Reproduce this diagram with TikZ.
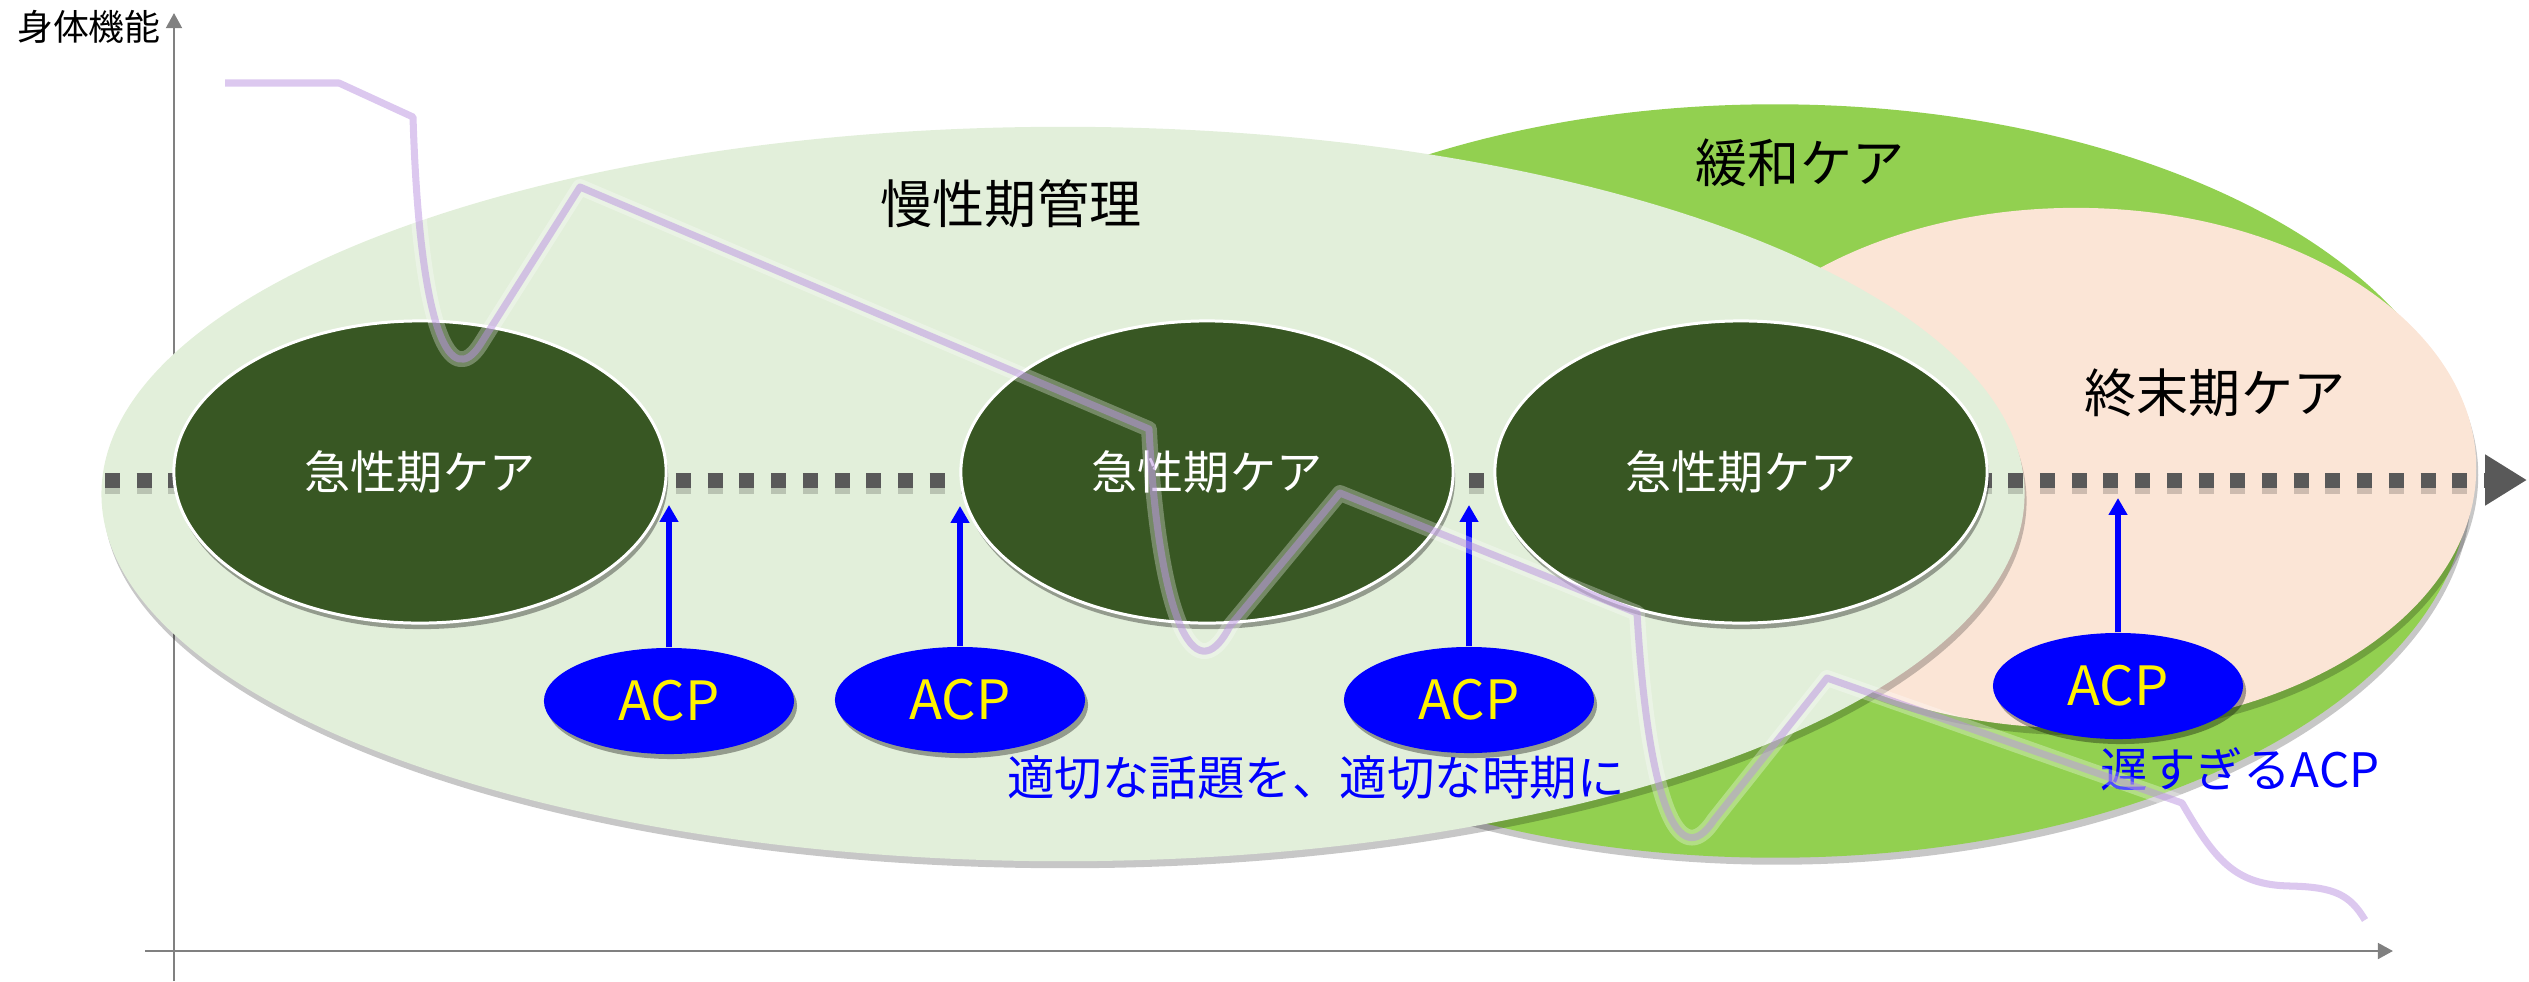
\documentclass[tikz,border=0pt]{standalone}
\usepackage{fontspec}
\setmainfont{Noto Sans CJK JP}
\usetikzlibrary{shapes.geometric, arrows.meta, shadows, calc}

\definecolor{lgreen}{HTML}{E2EFDA}
\definecolor{pgreen}{HTML}{92D050}
\definecolor{peach}{HTML}{FBE5D6}
\definecolor{dgreen}{RGB}{56,87,35}
\definecolor{dotgray}{HTML}{595959}
\definecolor{axisgray}{HTML}{808080}
\definecolor{curvecol}{RGB}{185,145,225}

\begin{document}
\begin{tikzpicture}[x=0.01cm, y=-0.01cm,
  bigell/.style={ellipse, inner sep=0pt, draw=none,
    drop shadow={shadow xshift=0.02cm, shadow yshift=-0.07cm, opacity=0.22, fill=black}},
  bigtext/.style={inner sep=0pt, text=black, font=\fontsize{14.8pt}{17pt}\selectfont},
  acute/.style={ellipse, fill=dgreen, draw=white, line width=0.85pt,
    minimum width=4.92cm, minimum height=3.02cm, inner sep=0pt, text=white,
    font=\fontsize{13.1pt}{15pt}\selectfont,
    drop shadow={shadow xshift=0.02cm, shadow yshift=-0.06cm, opacity=0.35, fill=black}},
  acp/.style={ellipse, fill=blue, draw=none, text=yellow,
    minimum width=2.5cm, minimum height=1.06cm, inner sep=0pt,
    font=\fontsize{15.4pt}{17pt}\selectfont,
    drop shadow={shadow xshift=0.03cm, shadow yshift=-0.05cm, opacity=0.35, fill=black}},
  acparrow/.style={blue, line width=1.6pt,
    -{Triangle[length=4.8pt, width=5.1pt]}},
  bluetext/.style={inner sep=0pt, text=blue, font=\fontsize{13.5pt}{16pt}\selectfont},
  axisline/.style={axisgray, line width=0.7pt,
    -{Triangle[length=4.3pt, width=4.5pt]}},
  dotline/.style={dotgray, line width=4.27pt, dash pattern=on 4.27pt off 4.75pt},
  curveline/.style={draw=curvecol, draw opacity=0.5, line width=2pt, line join=round,
    preaction={draw=white, draw opacity=0.3, line width=4.5pt, line join=round}}
]
\useasboundingbox (0,0) rectangle (2529,981);

% axes
\coordinate (ybot) at (174,981);
\coordinate (ytop) at (174,13);
\coordinate (xleft) at (145,951);
\coordinate (xright) at (2393,951);
\draw[axisline] (ybot) -- (ytop);
\draw[axisline] (xleft) -- (xright);
\node[inner sep=0pt, text=black, font=\fontsize{10.2pt}{12pt}\selectfont] (ylabel) at (89,27) {身体機能};

% large regions
\node[bigell, fill=pgreen, minimum width=13.88cm, minimum height=7.53cm] (palliative) at (1775,481) {};
\node[bigell, fill=peach, minimum width=8.0cm, minimum height=5.2cm] (terminal) at (2076,468) {};
\node[bigell, fill=lgreen, minimum width=19.22cm, minimum height=7.34cm] (chronic) at (1063,494) {};

\node[bigtext] (chronictext) at (1011,204) {慢性期管理};
\node[bigtext] (palltext) at (1800,163) {緩和ケア};
\node[bigtext] (termtext) at (2215,393) {終末期ケア};

% dotted time line
\coordinate (dotstart) at (105,480);
\coordinate (dotend) at (2527,480);
\coordinate (dotshadowend) at (2484,486);
\draw[dotline, black, opacity=0.18] ($(dotstart)+(0,6)$) -- (dotshadowend);
\draw[dotline, -{Triangle[length=11.9pt, width=13.7pt]}] (dotstart) -- (dotend);

% acute care ellipses
\node[acute] (acute1) at (420,472) {急性期ケア};
\node[acute] (acute2) at (1207,472) {急性期ケア};
\node[acute] (acute3) at (1741,472) {急性期ケア};

% blue texts
\node[bluetext] (apt) at (1316,778) {適切な話題を、適切な時期に};
\node[bluetext] (late) at (2240,769) {遅すぎるACP};

% ACP nodes and arrows
\node[acp] (acp1) at (669,701) {ACP};
\node[acp] (acp2) at (960,700) {ACP};
\node[acp] (acp3) at (1469,700) {ACP};
\node[acp] (acp4) at (2118,686) {ACP};
\coordinate (t1) at (669,505);
\coordinate (t2) at (960,506);
\coordinate (t3) at (1469,505);
\coordinate (t4) at (2118,498);
\draw[acparrow] (acp1) -- (t1);
\draw[acparrow] (acp2) -- (t2);
\draw[acparrow] (acp3) -- (t3);
\draw[acparrow] (acp4) -- (t4);

% physical function curve
\draw[curveline] (225,83) -- (339,83) -- (413,117)
  .. controls (420,340) and (452,388) .. (480,345)
  -- (580,187) -- (1149,429)
  .. controls (1158,610) and (1193,698) .. (1230,626)
  -- (1340,493) -- (1637,613)
  .. controls (1648,800) and (1678,875) .. (1714,820)
  -- (1827,678) -- (2182,803)
  .. controls (2215,860) and (2235,885) .. (2290,886)
  .. controls (2335,887) and (2350,895) .. (2365,920);
\end{tikzpicture}
\end{document}
